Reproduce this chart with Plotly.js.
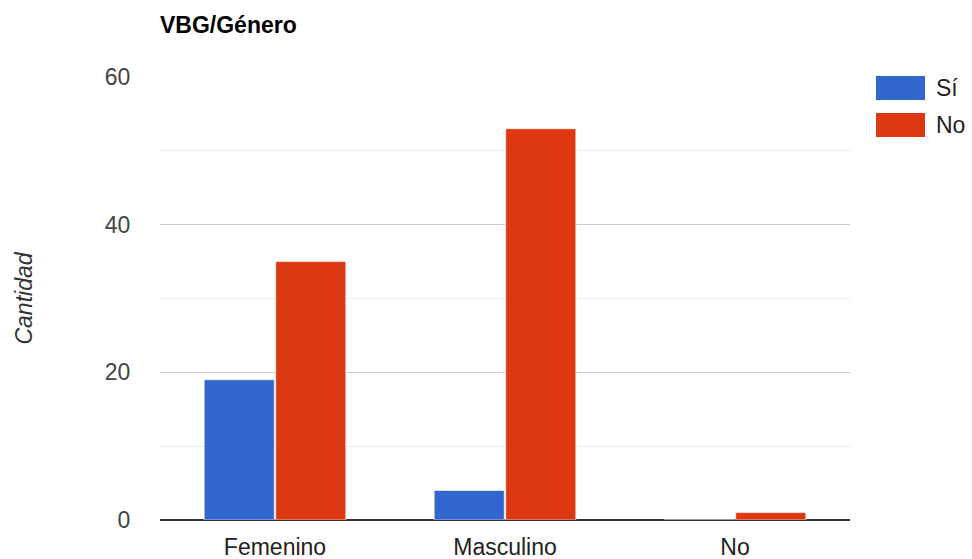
<!DOCTYPE html>
<html>
<head>
<meta charset="utf-8">
<script src="https://cdn.plot.ly/plotly-3.0.1.min.js"></script>
<style>html,body{margin:0;padding:0;background:#fff;}#chart{width:972px;height:559px;}</style>
</head>
<body>
<div id="chart"></div>
<script>
const categories = ['Femenino', 'Masculino', 'No'];
const seriesNames = ['Sí', 'No'];
const valuesSi = [19, 4, 0];
const valuesNo = [35, 53, 1];
const colors = ['#3366cc', '#dc3912'];
const yTicks = [0, 20, 40, 60];

const FONT = '"Liberation Sans", Arial, sans-serif';
const W = 972, H = 559;
const L = 160, R = 122, T = 77, B = 39;
const plotW = W - L - R, plotH = H - T - B;

const series = [valuesSi, valuesNo];
const traces = series.map((vals, i) => ({
  type: 'bar',
  name: seriesNames[i],
  x: categories,
  y: vals,
  marker: {color: colors[i], line: {color: 'rgba(255,255,255,0.6)', width: 1}},
  hoverinfo: 'x+y+name',
  showlegend: false
}));

// custom legend (big swatches as in the reference)
const shapes = [];
const annotations = [];
seriesNames.forEach((nm, i) => {
  const top = 76 + i * 37, bot = top + 24;
  shapes.push({
    type: 'rect', xref: 'paper', yref: 'paper',
    x0: (876 - L) / plotW, x1: (925 - L) / plotW,
    y0: (H - B - bot) / plotH, y1: (H - B - top) / plotH,
    fillcolor: colors[i], line: {width: 0}
  });
  annotations.push({
    xref: 'paper', yref: 'paper',
    x: (934 - L) / plotW, y: (H - B - (top + bot) / 2) / plotH,
    xanchor: 'left', yanchor: 'middle', showarrow: false,
    text: nm, font: {family: FONT, size: 23, color: '#222222'}
  });
});

const layout = {
  width: W, height: H,
  margin: {l: L, r: R, t: T, b: B, pad: 0},
  paper_bgcolor: '#ffffff', plot_bgcolor: '#ffffff',
  title: {
    text: '<b>VBG/Género</b>',
    x: L / W, xanchor: 'left', xref: 'container',
    y: 1 - 25 / H, yanchor: 'middle', yref: 'container',
    font: {family: FONT, size: 23, color: '#000000'}
  },
  barmode: 'group',
  bargap: 0.378,
  bargroupgap: 0.02,
  xaxis: {
    type: 'category',
    showgrid: false, showline: false, zeroline: false,
    ticks: 'outside', ticklen: 6, tickcolor: 'rgba(0,0,0,0)',
    tickfont: {family: FONT, size: 23, color: '#222222'}
  },
  yaxis: {
    range: [0, 60],
    tickvals: yTicks,
    ticktext: yTicks.map(String),
    showgrid: true, gridcolor: '#cccccc', gridwidth: 1,
    minor: {dtick: 10, showgrid: true, gridcolor: '#ebebeb', gridwidth: 1},
    zeroline: true, zerolinecolor: '#333333', zerolinewidth: 2,
    showline: false,
    ticks: 'outside', ticklen: 24, tickcolor: 'rgba(0,0,0,0)',
    tickfont: {family: FONT, size: 23, color: '#444444'},
    title: {
      text: '<i>Cantidad</i>',
      font: {family: FONT, size: 23, color: '#333333'},
      standoff: 65
    }
  },
  shapes: shapes,
  annotations: annotations,
  showlegend: false
};

Plotly.newPlot('chart', traces, layout, {displayModeBar: false, responsive: false});
</script>
</body>
</html>
